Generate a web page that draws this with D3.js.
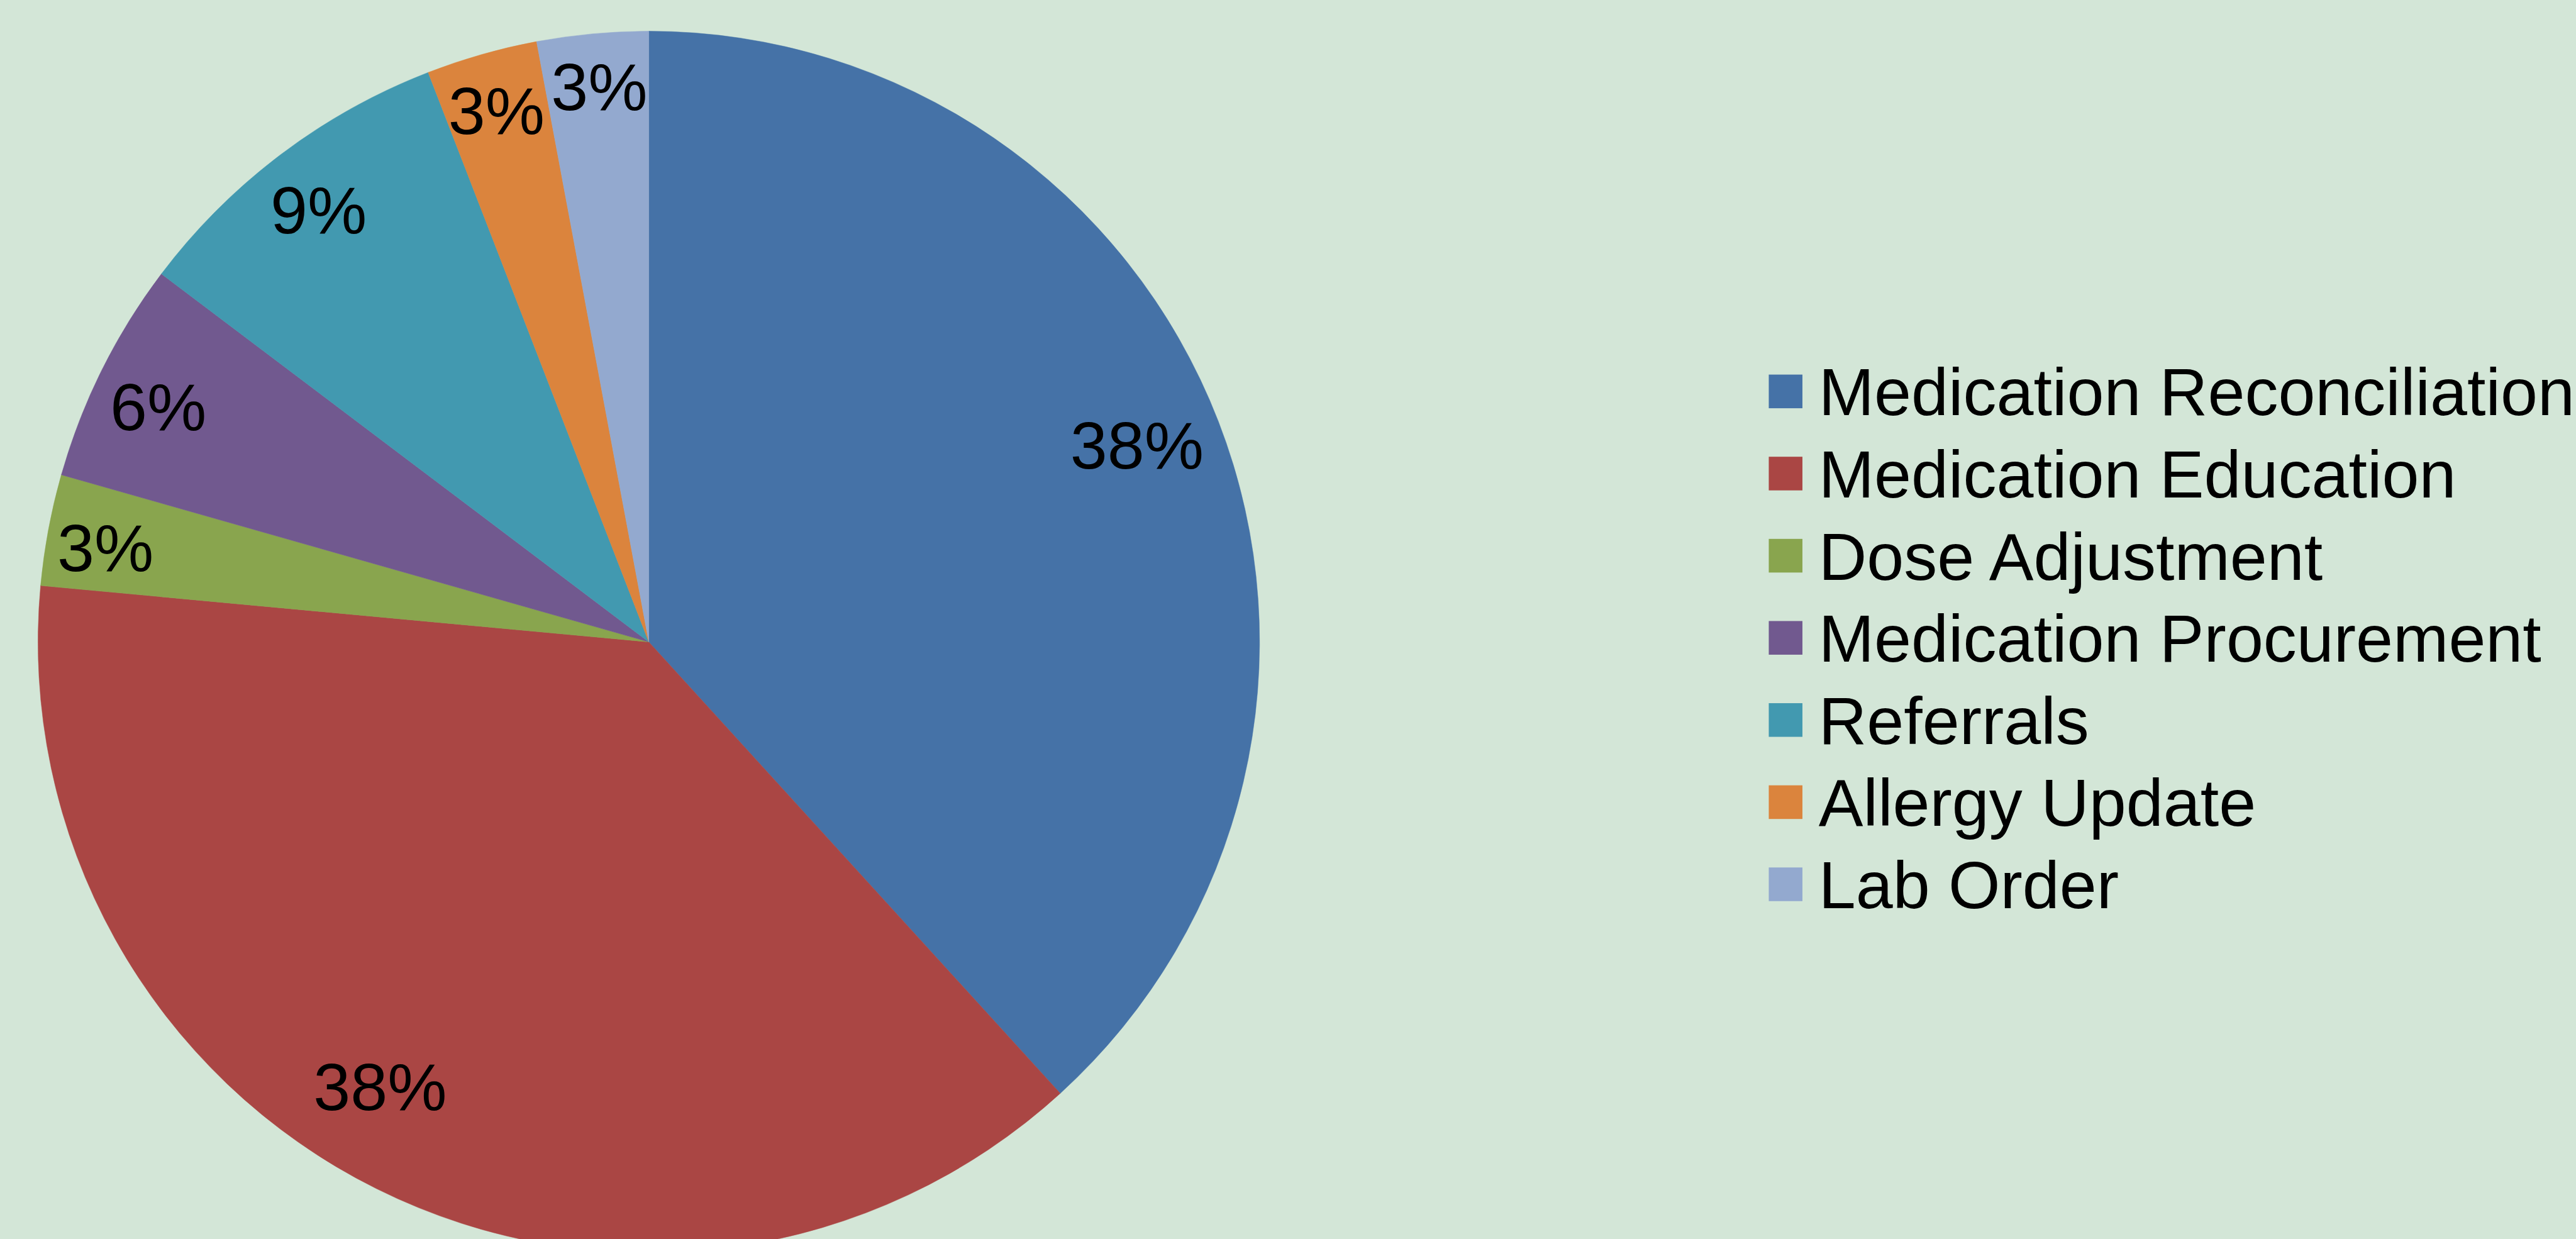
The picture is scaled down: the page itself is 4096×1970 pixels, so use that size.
<!DOCTYPE html>
<html>
<head>
<meta charset="utf-8">
<script src="https://cdn.jsdelivr.net/npm/d3@7/dist/d3.min.js"></script>
<style>
  html, body { margin: 0; padding: 0; background: #D3E6D7; overflow: hidden; }
  svg { display: block; }
  text { font-family: "Liberation Sans", Arial, sans-serif; fill: #000; }
</style>
</head>
<body>
<svg id="chart"></svg>
<script>
// Pharmacist intervention types (counts)
const categories = [
  "Medication Reconciliation",
  "Medication Education",
  "Dose Adjustment",
  "Medication Procurement",
  "Referrals",
  "Allergy Update",
  "Lab Order"
];
const counts = [13, 13, 1, 2, 3, 1, 1];
const colors = ["#4572A7", "#AA4644", "#89A54E", "#71598F", "#4299B0", "#DB843D", "#93A9CF"];

// Label placement per slice: radial fraction of the pie radius and angular nudge (degrees)
const labelLayout = [
  { r: 0.862, da: -0.8 },
  { r: 0.850, da: 4.7 },
  { r: 0.903, da: -0.7 },
  { r: 0.891, da: -0.8 },
  { r: 0.891, da: -0.3 },
  { r: 0.906, da: -0.1 },
  { r: 0.914, da: 0.2 }
];

const W = 4096, H = 1970;
const s = 0.991;
const cx = 1041 * s, cy = 1030 * s, R = 980 * s;
const fontSize = 107 * s;

const svg = d3.select("#chart").attr("width", W).attr("height", H);
svg.append("rect").attr("width", W).attr("height", H).attr("fill", "#D3E6D7");

const total = d3.sum(counts);
const data = categories.map((c, i) => ({ name: c, value: counts[i], color: colors[i], i }));

const pie = d3.pie().value(d => d.value).sort(null);
const arcs = pie(data);
const arc = d3.arc().innerRadius(0).outerRadius(R);

const g = svg.append("g").attr("transform", `translate(${cx},${cy})`);

g.selectAll("path.slice")
  .data(arcs)
  .join("path")
  .attr("class", "slice")
  .attr("d", arc)
  .attr("fill", d => d.data.color)
  .attr("stroke", d => d.data.color)
  .attr("stroke-width", 0.5);

const pct = d3.format(".0%");
g.selectAll("text.label")
  .data(arcs)
  .join("text")
  .attr("class", "label")
  .attr("text-anchor", "middle")
  .attr("font-size", fontSize)
  .attr("x", d => {
    const L = labelLayout[d.data.i];
    const a = (d.startAngle + d.endAngle) / 2 + L.da * Math.PI / 180;
    return Math.sin(a) * R * L.r;
  })
  .attr("y", d => {
    const L = labelLayout[d.data.i];
    const a = (d.startAngle + d.endAngle) / 2 + L.da * Math.PI / 180;
    return -Math.cos(a) * R * L.r + fontSize * 0.358;
  })
  .text(d => pct(d.data.value / total));

// Legend
const legend = svg.append("g").attr("transform", `translate(${2838 * s},${601 * s})`);
const step = 131.8 * s, box = 54 * s;
const rows = legend.selectAll("g.row")
  .data(data)
  .join("g")
  .attr("class", "row")
  .attr("transform", (d, i) => `translate(0,${i * step})`);
rows.append("rect")
  .attr("width", box)
  .attr("height", box)
  .attr("fill", d => d.color);
rows.append("text")
  .attr("x", (2918 - 2838) * s)
  .attr("y", box / 2 + fontSize * 0.358)
  .attr("font-size", fontSize)
  .text(d => d.name);
</script>
</body>
</html>
